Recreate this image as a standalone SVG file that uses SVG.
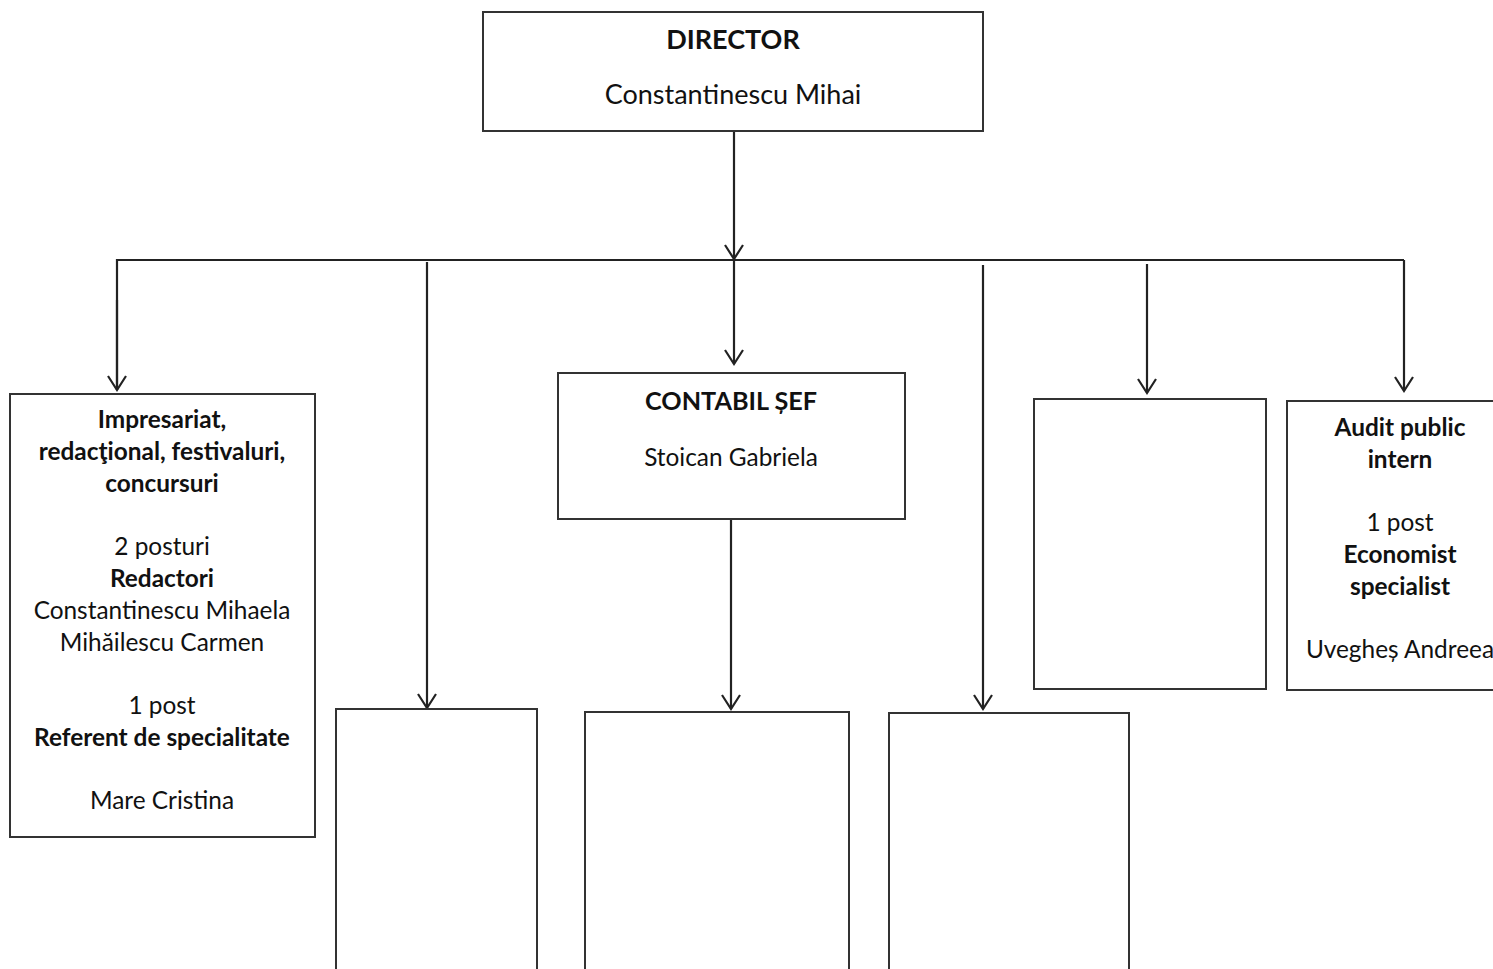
<svg xmlns="http://www.w3.org/2000/svg" width="1493" height="969" viewBox="0 0 1493 969">
<style>
.box{fill:#fff;stroke:#333;stroke-width:2}
.ln{fill:none;stroke:#222;stroke-width:2.2}
text{font-family:Lato,"Liberation Sans",sans-serif;fill:#111;text-anchor:middle;font-size:24.4px}
.b{font-weight:bold}
.big{font-size:27px}
.mid{font-size:25.2px}
</style>
<defs>
<marker id="ah" markerWidth="24" markerHeight="20" refX="11" refY="16" orient="0" markerUnits="userSpaceOnUse" viewBox="0 0 22 20">
<path d="M2 2 L11 16 L20 2" fill="none" stroke="#222" stroke-width="2.2"/>
</marker>
</defs>
<rect width="1493" height="969" fill="#fff"/>
<g id="connectors">
<line class="ln" x1="734" y1="131" x2="734" y2="259" marker-end="url(#ah)"/>
<polyline class="ln" points="117,390 117,260 1404,260"/>
<line class="ln" x1="117" y1="300" x2="117" y2="390" marker-end="url(#ah)"/>
<line class="ln" x1="427" y1="262" x2="427" y2="708" marker-end="url(#ah)"/>
<line class="ln" x1="734" y1="260" x2="734" y2="364" marker-end="url(#ah)"/>
<line class="ln" x1="983" y1="265" x2="983" y2="709" marker-end="url(#ah)"/>
<line class="ln" x1="1147" y1="264" x2="1147" y2="393" marker-end="url(#ah)"/>
<line class="ln" x1="1404" y1="260" x2="1404" y2="391" marker-end="url(#ah)"/>
<line class="ln" x1="731" y1="519" x2="731" y2="709" marker-end="url(#ah)"/>
</g>
<g id="director">
<rect class="box" x="483" y="12" width="500" height="119"/>
<text class="b big" x="733" y="49">DIRECTOR</text>
<text class="big" x="733" y="104">Constantinescu Mihai</text>
</g>
<g id="impresariat">
<rect class="box" x="10" y="394" width="305" height="443"/>
<text class="b" x="162" y="428">Impresariat,</text>
<text class="b" x="162" y="460">redacţional, festivaluri,</text>
<text class="b" x="162" y="492">concursuri</text>
<text x="162" y="555">2 posturi</text>
<text class="b" x="162" y="587">Redactori</text>
<text x="162" y="619">Constantinescu Mihaela</text>
<text x="162" y="651">Mihăilescu Carmen</text>
<text x="162" y="714">1 post</text>
<text class="b" x="162" y="746">Referent de specialitate</text>
<text x="162" y="809">Mare Cristina</text>
</g>
<g id="contabil">
<rect class="box" x="558" y="373" width="347" height="146"/>
<text class="b mid" x="731" y="410">CONTABIL ȘEF</text>
<text x="731" y="466">Stoican Gabriela</text>
</g>
<g id="empty-right">
<rect class="box" x="1034" y="399" width="232" height="290"/>
</g>
<g id="audit">
<rect class="box" x="1287" y="401" width="220" height="289"/>
<text class="b" x="1400" y="436">Audit public</text>
<text class="b" x="1400" y="468">intern</text>
<text x="1400" y="531">1 post</text>
<text class="b" x="1400" y="563">Economist</text>
<text class="b" x="1400" y="595">specialist</text>
<text x="1400" y="658">Uvegheș Andreea</text>
</g>
<g id="box-b1">
<rect class="box" x="336" y="709" width="201" height="280"/>
</g>
<g id="box-b2">
<rect class="box" x="585" y="712" width="264" height="280"/>
</g>
<g id="box-b3">
<rect class="box" x="889" y="713" width="240" height="280"/>
</g>
</svg>
